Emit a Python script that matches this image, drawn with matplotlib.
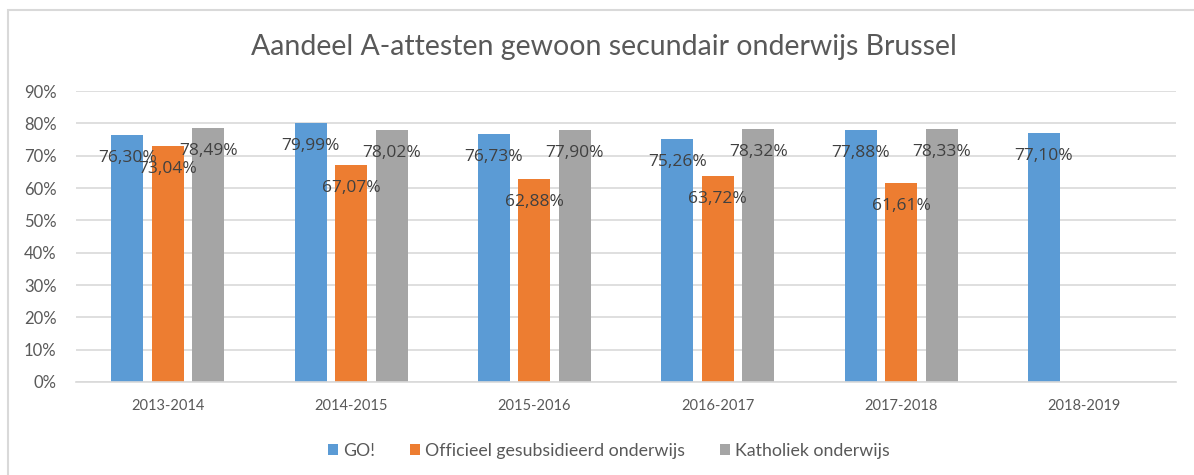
import numpy as np
import matplotlib.pyplot as plt
from matplotlib.patches import Rectangle

plt.rcParams['font.family'] = ['Lato', 'DejaVu Sans']

jaren = ["2013-2014", "2014-2015", "2015-2016", "2016-2017", "2017-2018", "2018-2019"]
go = [76.30, 79.99, 76.73, 75.26, 77.88, 77.10]
ogo = [73.04, 67.07, 62.88, 63.72, 61.61, np.nan]
katholiek = [78.49, 78.02, 77.90, 78.32, 78.33, np.nan]

reeksen = [
    ("GO!", go, "#5b9bd5"),
    ("Officieel gesubsidieerd onderwijs", ogo, "#ed7d31"),
    ("Katholiek onderwijs", katholiek, "#a5a5a5"),
]

fig = plt.figure(figsize=(11.94, 4.75), dpi=100)
ax = fig.add_axes([0.0637, 0.1958, 0.9213, 0.6126])

# lichte kader rond de grafiek
fig.patches.append(Rectangle((8 / 1194, -0.1), 1.2, (475 - 10) / 475 + 0.1,
                             transform=fig.transFigure, fill=False,
                             edgecolor="#d9d9d9", linewidth=1.5))

x = np.arange(len(jaren))
stap = 0.221
breedte = 0.175
for i, (naam, waarden, kleur) in enumerate(reeksen):
    pos = x + (i - 1) * stap
    ax.bar(pos, waarden, width=breedte, color=kleur, label=naam, zorder=2)
    for xp, v in zip(pos, waarden):
        if np.isnan(v):
            continue
        ax.annotate(f"{v:.2f}%".replace(".", ","), (xp, v), xytext=(0, -23),
                    textcoords="offset pixels", ha="center", va="center",
                    fontsize=12.5, color="#404040", family="Open Sans", zorder=3)

ax.set_xlim(-0.5, len(jaren) - 0.5)
ax.set_ylim(0, 90)
ax.set_yticks(np.arange(0, 91, 10))
ax.set_yticklabels([f"{t}%" for t in range(0, 91, 10)])
ax.set_xticks(x)
ax.set_xticklabels(jaren)
ax.yaxis.grid(True, color="#d9d9d9", linewidth=1.2, zorder=0)
ax.set_axisbelow(True)
for s in ["top", "right", "left"]:
    ax.spines[s].set_visible(False)
ax.spines["bottom"].set_color("#d9d9d9")
ax.spines["bottom"].set_linewidth(1.2)
ax.tick_params(axis="both", length=0, colors="#595959")
ax.tick_params(axis="x", pad=12, labelsize=10.5)
ax.tick_params(axis="y", pad=14, labelsize=12)

fig.text(0.506, 0.901, "Aandeel A-attesten gewoon secundair onderwijs Brussel",
         ha="center", va="center", fontsize=20.5, color="#595959")

fig.legend(loc="center", bbox_to_anchor=(0.51, 0.0505), ncol=3, frameon=False,
           fontsize=12.8, handlelength=0.56, handleheight=0.56, handletextpad=0.25,
           columnspacing=2.0, labelcolor="#595959")

fig.savefig("out.png", dpi=100)
